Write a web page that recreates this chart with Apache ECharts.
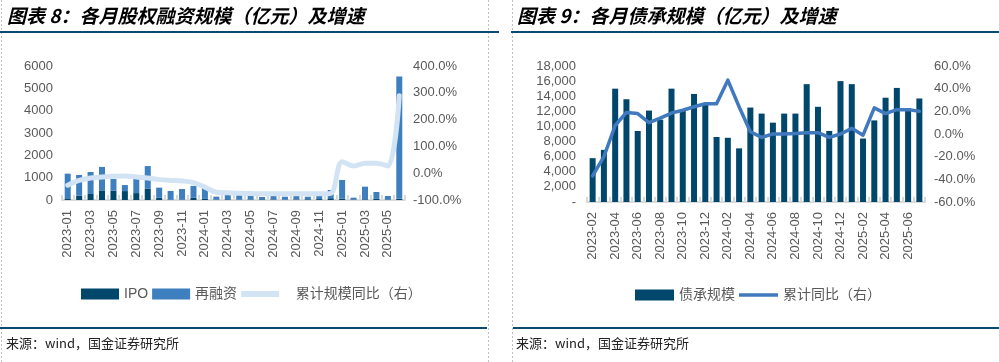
<!DOCTYPE html>
<html><head><meta charset="utf-8">
<script src="https://cdn.jsdelivr.net/npm/echarts@6/dist/echarts.min.js"></script>
<style>html,body{margin:0;padding:0;background:#fff}#c{width:999px;height:362px}</style>
</head><body><div id="c"></div>
<script>
// ---- Left chart data (股权融资) ----
const monthsL = ['2023-01','2023-02','2023-03','2023-04','2023-05','2023-06','2023-07','2023-08','2023-09','2023-10','2023-11','2023-12',
 '2024-01','2024-02','2024-03','2024-04','2024-05','2024-06','2024-07','2024-08','2024-09','2024-10','2024-11','2024-12',
 '2025-01','2025-02','2025-03','2025-04','2025-05','2025-06'];
const totalL = [1180,1120,1254,1480,940,670,1120,1520,552,403,493,630,560,150,300,260,224,134,224,148,193,148,224,448,897,104,597,359,179,5530];
const ipo    = [75,190,270,430,420,400,310,500,100,20,15,100,50,15,30,15,10,30,20,15,20,30,40,80,60,20,30,50,20,60];
const refinance = totalL.map((v,i)=>v-ipo[i]);
const cumYoYL = [-45,-27,-18,-14,-11,-10,-14,-18,-24,-27,-29,-35,-52,-71,-73,-75,-76,-77,-77,-77,-77,-77,-77,-75,43,27,37,37,27,289];
const ticksL = [0,1000,2000,3000,4000,5000,6000];
const ticksLR = [-100,0,100,200,300,400];

// ---- Right chart data (债承) ----
const monthsR = ['2023-02','2023-03','2023-04','2023-05','2023-06','2023-07','2023-08','2023-09','2023-10','2023-11','2023-12',
 '2024-01','2024-02','2024-03','2024-04','2024-05','2024-06','2024-07','2024-08','2024-09','2024-10','2024-11','2024-12',
 '2025-01','2025-02','2025-03','2025-04','2025-05','2025-06','2025-07'];
const bonds = [5800,6900,15000,13600,9400,12100,10900,15000,12100,14300,13000,8600,8500,7100,12500,11700,10500,11700,11700,15600,12600,9400,16000,15600,8400,10800,13800,15100,12400,13700];
const cumYoYR = [-37,-20,7.5,19,18,10,14,18.5,21,24,26.7,26.7,47.5,24,2,-3,0,0,0.5,1,1.2,-3,0,5,-1,23,18,21.5,21.5,20];
const ticksR = [0,2000,4000,6000,8000,10000,12000,14000,16000,18000];
const ticksRR = [-60,-40,-20,0,20,40,60];

const FONT = '"Liberation Sans", Arial, "Noto Sans CJK SC", sans-serif';
const GRAY = '#595959';
const DARK = '#00476b';
const MID = '#3e7fc0';
const LIGHT = '#d2e4f4';
const LINE_R = '#4079bd';

function xAxis(gi, data){
  return {type:'category', gridIndex:gi, data:data,
    axisLine:{lineStyle:{color:'#d9d9d9', width:2}},
    axisTick:{show:true, inside:true, length:5, interval:0, lineStyle:{color:'#d9d9d9', width:2}},
    axisLabel:{rotate:90, interval:1, fontSize:13, color:GRAY, margin:10, fontFamily:FONT}};
}
function yAxis(gi, pos, ticks, fmt, margin){
  return {type:'value', gridIndex:gi, position:pos, min:ticks[0], max:ticks[ticks.length-1],
    interval:ticks[1]-ticks[0], splitLine:{show:false}, axisLine:{show:false}, axisTick:{show:false},
    axisLabel:{fontSize:13, color:GRAY, margin:margin, fontFamily:FONT, formatter:fmt}};
}
const pctFmt = v => v.toFixed(1) + '%';
const thouFmt = v => v === 0 ? '-' : v.toLocaleString('en-US');

const chart = echarts.init(document.getElementById('c'), null, {renderer:'canvas'});
chart.setOption({
  animation:false,
  textStyle:{fontFamily:FONT},
  grid:[
    {left:62, top:66, width:343, height:134},
    {left:587, top:66, width:338, height:136}
  ],
  xAxis:[xAxis(0, monthsL), xAxis(1, monthsR)],
  yAxis:[
    yAxis(0,'left',ticksL, v=>String(v), 9),
    yAxis(0,'right',ticksLR, pctFmt, 8),
    yAxis(1,'left',ticksR, thouFmt, 11),
    yAxis(1,'right',ticksRR, pctFmt, 9)
  ],
  legend:[
    {left:76, top:282, itemWidth:38, itemHeight:11, itemGap:4,
     textStyle:{fontSize:14, color:GRAY, fontFamily:FONT},
     formatter: n => n === '累计规模同比（右）' ? '   ' + n : n,
     data:[{name:'IPO', icon:'rect'},{name:'再融资', icon:'rect'},
           {name:'累计规模同比（右）', icon:'path://M0,0 L32,0 L32,5 L0,5 Z'}]},
    {left:630, top:283, itemWidth:39, itemHeight:11, itemGap:4,
     textStyle:{fontSize:14, color:GRAY, fontFamily:FONT},
     data:[{name:'债承规模', icon:'rect'},
           {name:'累计同比（右）', icon:'path://M0,0 L40,0 L40,3.6 L0,3.6 Z'}]}
  ],
  series:[
    {name:'IPO', type:'bar', xAxisIndex:0, yAxisIndex:0, stack:'eq', data:ipo, barWidth:6, itemStyle:{color:DARK}},
    {name:'再融资', type:'bar', xAxisIndex:0, yAxisIndex:0, stack:'eq', data:refinance, barWidth:6, itemStyle:{color:MID}},
    {name:'累计规模同比（右）', type:'line', xAxisIndex:0, yAxisIndex:1, data:cumYoYL, smooth:0.35, symbol:'none',
     lineStyle:{color:LIGHT, width:5, cap:'round'}, itemStyle:{color:LIGHT}},
    {name:'债承规模', type:'bar', xAxisIndex:1, yAxisIndex:2, data:bonds, barWidth:6, itemStyle:{color:DARK}},
    {name:'累计同比（右）', type:'line', xAxisIndex:1, yAxisIndex:3, data:cumYoYR, symbol:'none',
     lineStyle:{color:LINE_R, width:3.5, cap:'round', join:'round'}, itemStyle:{color:LINE_R}}
  ],
  graphic:[
    {type:'line', shape:{x1:1.5,y1:0,x2:1.5,y2:362}, style:{stroke:'#bfbfbf', lineWidth:1, lineDash:[2,2]}},
    {type:'line', shape:{x1:488.5,y1:0,x2:488.5,y2:362}, style:{stroke:'#bfbfbf', lineWidth:1, lineDash:[2,2]}},
    {type:'line', shape:{x1:512.5,y1:0,x2:512.5,y2:362}, style:{stroke:'#bfbfbf', lineWidth:1, lineDash:[2,2]}},
    {type:'rect', shape:{x:0,y:31,width:499,height:2}, style:{fill:'#0b4a6f'}},
    {type:'rect', shape:{x:511,y:31,width:488,height:2}, style:{fill:'#0b4a6f'}},
    {type:'rect', shape:{x:0,y:327,width:487,height:2}, style:{fill:'#0b4a6f'}},
    {type:'rect', shape:{x:513,y:327,width:486,height:2}, style:{fill:'#0b4a6f'}},
    {type:'text', left:7, top:6, style:{text:'图表 8：各月股权融资规模（亿元）及增速', fill:'#000',
      font:'italic bold 19px "Noto Sans CJK SC", sans-serif'}},
    {type:'text', left:517, top:6, style:{text:'图表 9：各月债承规模（亿元）及增速', fill:'#000',
      font:'italic bold 19px "Noto Sans CJK SC", sans-serif'}},
    {type:'text', left:6, top:337, style:{text:'来源：wind，国金证券研究所', fill:'#222',
      font:'13px "Noto Sans CJK SC", monospace'}},
    {type:'text', left:516, top:337, style:{text:'来源：wind，国金证券研究所', fill:'#222',
      font:'13px "Noto Sans CJK SC", monospace'}}
  ]
});
</script></body></html>
